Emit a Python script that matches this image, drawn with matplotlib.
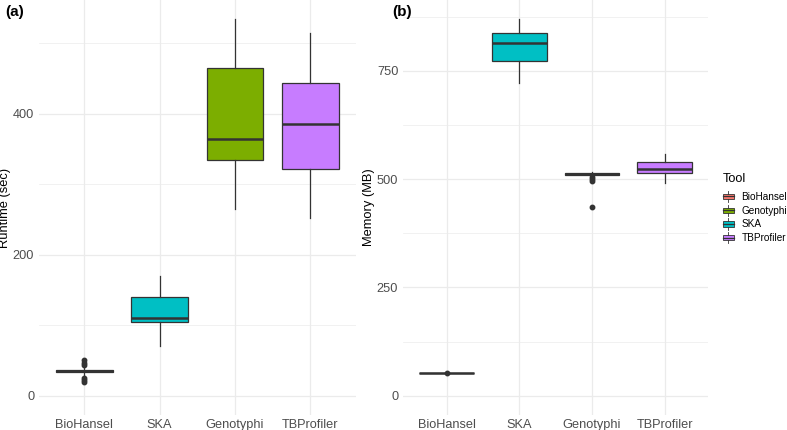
import matplotlib
matplotlib.use("Agg")
import matplotlib.pyplot as plt
from matplotlib.legend_handler import HandlerBase
from matplotlib.patches import Rectangle
from matplotlib.lines import Line2D

plt.rcParams['font.family'] = ['Liberation Sans', 'DejaVu Sans']

# ---------------- data ----------------
x_order = ["BioHansel", "SKA", "Genotyphi", "TBProfiler"]
legend_order = ["BioHansel", "Genotyphi", "SKA", "TBProfiler"]
tool_colors = {"BioHansel": "#F8766D", "Genotyphi": "#7CAE00",
               "SKA": "#00BFC4", "TBProfiler": "#C77CFF"}

# Runtime (sec) box statistics, in x_order
rt_whislo = [30, 71, 265, 252]
rt_q1 = [33, 104, 334, 322]
rt_med = [34.5, 110.5, 364.5, 385]
rt_q3 = [36, 140, 465, 443]
rt_whishi = [39, 170, 534, 515]
rt_fliers = [[50, 47, 44, 25, 22, 19], [], [], []]

# Memory (MB) box statistics, in x_order
mem_whislo = [53, 721, 509, 490]
mem_q1 = [53, 772, 510, 515]
mem_med = [53, 813, 512, 522.5]
mem_q3 = [53, 837, 514, 538.5]
mem_whishi = [53, 869, 516, 559]
mem_fliers = [[53], [], [505, 500, 496, 435.5], []]

rt_ticks = [0, 200, 400]
rt_minor = [100, 300, 500]
mem_ticks = [0, 250, 500, 750]
mem_minor = [125, 375, 625, 875]

EDGE = "#333333"
GRID = "#EBEBEB"
TXT = "#4D4D4D"

W, H = 787, 430
fig = plt.figure(figsize=(W / 100, H / 100), dpi=100)


def make_axes(x0, x1, y0, y1):
    return fig.add_axes([x0 / W, 1 - y1 / H, (x1 - x0) / W, (y1 - y0) / H])


def draw_panel(ax, whislo, q1, med, q3, whishi, fliers, ylim, major, minor, ylabel):
    stats = []
    for i in range(len(x_order)):
        stats.append(dict(whislo=whislo[i], q1=q1[i], med=med[i], q3=q3[i],
                          whishi=whishi[i], fliers=fliers[i]))
    pos = list(range(1, len(x_order) + 1))
    bp = ax.bxp(stats, positions=pos, widths=0.75, patch_artist=True,
                showcaps=False,
                boxprops=dict(edgecolor=EDGE, linewidth=0.9),
                medianprops=dict(color=EDGE, linewidth=1.8, solid_capstyle='butt'),
                whiskerprops=dict(color=EDGE, linewidth=0.9),
                flierprops=dict(marker='o', markersize=3.2, markerfacecolor=EDGE,
                                markeredgecolor=EDGE, linestyle='none'),
                zorder=3)
    for patch, name in zip(bp['boxes'], x_order):
        patch.set_facecolor(tool_colors[name])
    ax.set_xlim(0.4, 4.6)
    ax.set_ylim(*ylim)
    ax.set_xticks(pos)
    ax.set_xticklabels(x_order)
    ax.set_yticks(major)
    ax.set_yticks(minor, minor=True)
    ax.grid(True, which='major', color=GRID, linewidth=0.9, zorder=0)
    ax.grid(True, which='minor', axis='y', color=GRID, linewidth=0.5, zorder=0)
    ax.set_axisbelow(True)
    for s in ax.spines.values():
        s.set_visible(False)
    ax.tick_params(axis='both', which='both', length=0, labelsize=9.2, labelcolor=TXT)
    ax.tick_params(axis='x', pad=3.5)
    ax.tick_params(axis='y', pad=3.5)
    ax.set_ylabel(ylabel, fontsize=9.3, color='black', labelpad=1.2)


ax1 = make_axes(39.1, 355.5, 0.4, 414.5)
draw_panel(ax1, rt_whislo, rt_q1, rt_med, rt_q3, rt_whishi, rt_fliers,
           (-26.7, 560.7), rt_ticks, rt_minor, "Runtime (sec)")

ax2 = make_axes(403.1, 708.3, 0.4, 414.5)
draw_panel(ax2, mem_whislo, mem_q1, mem_med, mem_q3, mem_whishi, mem_fliers,
           (-43.4, 912.4), mem_ticks, mem_minor, "Memory (MB)")

fig.text(5 / W, 1 - 12 / H, "(a)", fontsize=11, fontweight='bold', va='center', ha='left')
fig.text(392 / W, 1 - 12 / H, "(b)", fontsize=11, fontweight='bold', va='center', ha='left')


class BoxKeyHandler(HandlerBase):
    def create_artists(self, legend, orig_handle, xdescent, ydescent,
                       width, height, fontsize, trans):
        color = orig_handle.get_facecolor()
        cx = -xdescent + width / 2
        bh = height * 0.62
        by = -ydescent + (height - bh) / 2
        rect = Rectangle((-xdescent, by), width, bh, facecolor=color,
                         edgecolor=EDGE, linewidth=0.6, transform=trans)
        med = Line2D([-xdescent, -xdescent + width], [by + bh / 2, by + bh / 2],
                     color=EDGE, linewidth=0.9, transform=trans)
        w1 = Line2D([cx, cx], [-ydescent - 1.0, by], color=EDGE, linewidth=0.6, transform=trans)
        w2 = Line2D([cx, cx], [by + bh, -ydescent + height + 1.0], color=EDGE,
                    linewidth=0.6, transform=trans)
        return [rect, med, w1, w2]


handles = [Rectangle((0, 0), 1, 1, facecolor=tool_colors[n]) for n in legend_order]
leg = fig.legend(handles, legend_order, handler_map={Rectangle: BoxKeyHandler()},
                 loc='upper left', bbox_to_anchor=(720.5 / W, 1 - 171 / H),
                 frameon=False, fontsize=7.2, title="Tool", title_fontsize=9.2,
                 handlelength=1.1, handleheight=0.9, handletextpad=0.8,
                 labelspacing=0.39, borderpad=0.2, borderaxespad=0)
leg._legend_box.align = "left"
leg._legend_box.sep = 4.8

fig.savefig("out.png", dpi=100)
